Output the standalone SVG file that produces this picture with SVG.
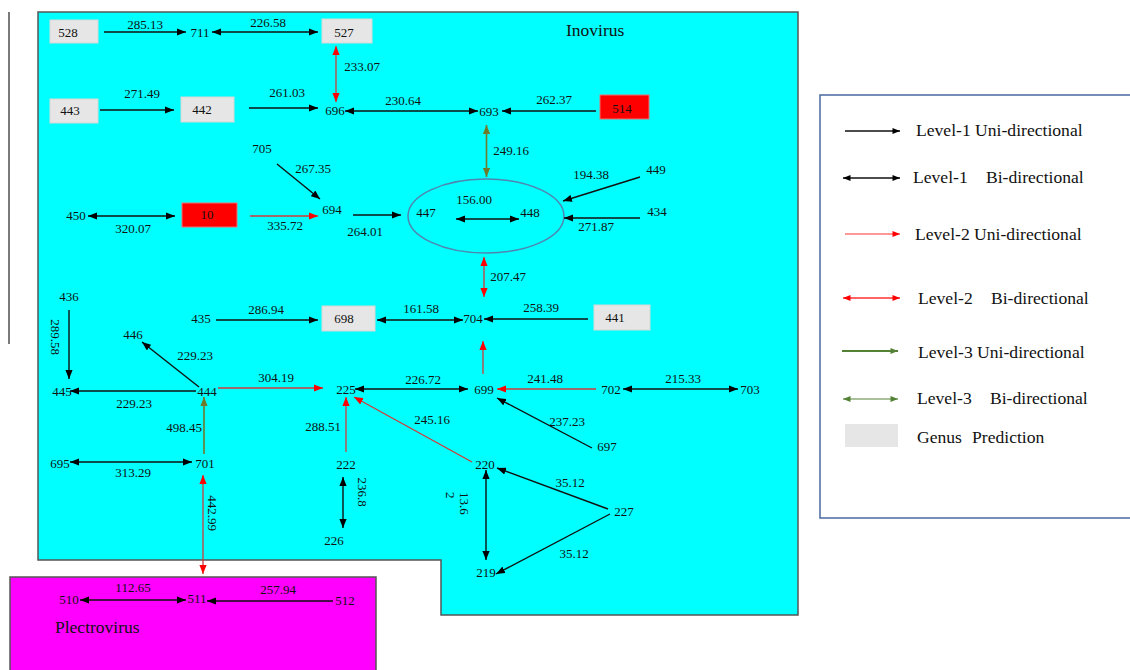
<svg xmlns="http://www.w3.org/2000/svg" width="1130" height="670" viewBox="0 0 1130 670">
<style>
text{font-family:"Liberation Serif","Times New Roman",serif;fill:#111}
.n{font-size:13px;text-anchor:middle}
.l{font-size:13px;text-anchor:middle}
.t{font-size:17.5px}
.lg{font-size:17.6px}
.k{stroke:#111;stroke-width:1.4;fill:none}
.r{stroke:#d23a3a;stroke-width:1.3;fill:none}
.g{stroke:#6f7a2c;stroke-width:1.6;fill:none}
.gb{fill:#e6e6e6;stroke:#d8d8d8;stroke-width:1}
.rb{fill:#ff0000;stroke:#f07070;stroke-width:1}
.ku{marker-end:url(#ak)}
.kb{marker-start:url(#ak);marker-end:url(#ak)}
.ru{marker-end:url(#ar)}
.rbi{marker-start:url(#ar);marker-end:url(#ar)}
.gu{marker-end:url(#ag)}
.gbi{marker-start:url(#ag);marker-end:url(#ag)}
</style>
<defs>
<marker id="ak" viewBox="0 0 10 8" refX="10" refY="4" markerWidth="9" markerHeight="7.5" markerUnits="userSpaceOnUse" orient="auto-start-reverse"><path d="M0,0 L10,4 L0,8 z" fill="#000"/></marker>
<marker id="ar" viewBox="0 0 10 8" refX="10" refY="4" markerWidth="9" markerHeight="7.5" markerUnits="userSpaceOnUse" orient="auto-start-reverse"><path d="M0,0 L10,4 L0,8 z" fill="#ff0000"/></marker>
<marker id="ag" viewBox="0 0 10 8" refX="10" refY="4" markerWidth="9" markerHeight="7.5" markerUnits="userSpaceOnUse" orient="auto-start-reverse"><path d="M0,0 L10,4 L0,8 z" fill="#6f7a2c"/></marker>
<marker id="lk" viewBox="0 0 10 8" refX="10" refY="4" markerWidth="8" markerHeight="6" markerUnits="userSpaceOnUse" orient="auto-start-reverse"><path d="M0,0 L10,4 L0,8 z" fill="#000"/></marker>
<marker id="lr" viewBox="0 0 10 8" refX="10" refY="4" markerWidth="8" markerHeight="6" markerUnits="userSpaceOnUse" orient="auto-start-reverse"><path d="M0,0 L10,4 L0,8 z" fill="#ff0000"/></marker>
<marker id="lg" viewBox="0 0 10 8" refX="10" refY="4" markerWidth="8" markerHeight="6" markerUnits="userSpaceOnUse" orient="auto-start-reverse"><path d="M0,0 L10,4 L0,8 z" fill="#548235"/></marker>
</defs>
<rect width="1130" height="670" fill="#fff"/>
<line x1="9" y1="12" x2="9" y2="344" stroke="#222" stroke-width="1.2"/>
<g id="region-inovirus">
<polygon points="38,12 798,12 798,615 441,615 441,560 38,560" fill="#00ffff" stroke="#555" stroke-width="1.5"/>
<text class="t" x="566" y="36">Inovirus</text>
</g>
<g id="region-plectrovirus">
<rect x="10" y="577" width="366" height="100" fill="#ff00ff" stroke="#555" stroke-width="1.5"/>
<text class="t" x="55" y="633">Plectrovirus</text>
</g>
<g id="cluster-447-448">
<ellipse cx="486" cy="216" rx="78" ry="37" fill="none" stroke="#4f86b0" stroke-width="1.5"/>
</g>
<g id="connectors">
<line class="k ku" x1="104" y1="32" x2="186" y2="32"/>
<line class="k ku" x1="100" y1="110" x2="174" y2="110"/>
<line class="k ku" x1="249" y1="108" x2="318" y2="108"/>
<line class="k ku" x1="596" y1="111" x2="502" y2="111"/>
<line class="k ku" x1="277" y1="164" x2="320" y2="199"/>
<line class="k ku" x1="353" y1="215" x2="401" y2="215"/>
<line class="k ku" x1="640" y1="177" x2="563" y2="201"/>
<line class="k ku" x1="640" y1="218" x2="564" y2="218"/>
<line class="k ku" x1="69" y1="310" x2="69" y2="379"/>
<line class="k ku" x1="216" y1="320" x2="318" y2="320"/>
<line class="k ku" x1="588" y1="319" x2="484" y2="319"/>
<line class="k ku" x1="199" y1="387" x2="142" y2="342"/>
<line class="k ku" x1="196" y1="391" x2="70" y2="391"/>
<line class="k ku" x1="592" y1="448" x2="497" y2="398"/>
<line class="k ku" x1="608" y1="509" x2="497" y2="468"/>
<line class="k ku" x1="610" y1="514" x2="496" y2="574"/>
<line class="k ku" x1="333" y1="601" x2="207" y2="601"/>
<line class="k kb" x1="212" y1="32" x2="318" y2="32"/>
<line class="k kb" x1="345" y1="111" x2="478" y2="111"/>
<line class="k kb" x1="88" y1="216" x2="175" y2="216"/>
<line class="k kb" x1="456" y1="219" x2="519" y2="219"/>
<line class="k kb" x1="377" y1="320" x2="463" y2="320"/>
<line class="k kb" x1="355" y1="389" x2="468" y2="389"/>
<line class="k kb" x1="623" y1="389" x2="738" y2="389"/>
<line class="k kb" x1="70" y1="462" x2="192" y2="462"/>
<line class="k kb" x1="343" y1="477" x2="343" y2="528"/>
<line class="k kb" x1="486" y1="470" x2="486" y2="560"/>
<line class="k kb" x1="80" y1="600" x2="186" y2="600"/>
<line class="r ru" x1="250" y1="216" x2="318" y2="216"/>
<line class="r ru" x1="483" y1="374" x2="483" y2="341"/>
<line class="r ru" x1="596" y1="389" x2="497" y2="389"/>
<line class="r ru" x1="218" y1="388" x2="323" y2="388"/>
<line class="r ru" x1="472" y1="462" x2="354" y2="397"/>
<line class="r ru" x1="346" y1="452" x2="346" y2="397"/>
<line class="r rbi" x1="336" y1="46" x2="336" y2="102"/>
<line class="r rbi" x1="484" y1="257" x2="484" y2="297"/>
<line class="r rbi" x1="203" y1="475" x2="203" y2="574"/>
<line class="g gbi" x1="486.5" y1="125" x2="486.5" y2="177"/>
<line class="g gu" x1="204" y1="454" x2="204" y2="397"/>
</g>
<g id="edge-labels">
<text class="l" x="145" y="29">285.13</text>
<text class="l" x="268" y="27">226.58</text>
<text class="l" x="362" y="71">233.07</text>
<text class="l" x="142" y="98">271.49</text>
<text class="l" x="287" y="97">261.03</text>
<text class="l" x="403" y="105">230.64</text>
<text class="l" x="554" y="104">262.37</text>
<text class="l" x="511" y="155">249.16</text>
<text class="l" x="313" y="173">267.35</text>
<text class="l" x="133" y="233">320.07</text>
<text class="l" x="285" y="230">335.72</text>
<text class="l" x="365" y="236">264.01</text>
<text class="l" x="591" y="179">194.38</text>
<text class="l" x="596" y="231">271.87</text>
<text class="l" x="474" y="204">156.00</text>
<text class="l" x="508" y="281">207.47</text>
<text class="l" x="266" y="314">286.94</text>
<text class="l" x="421" y="313">161.58</text>
<text class="l" x="541" y="312">258.39</text>
<text class="l" transform="translate(51,337) rotate(90)">289.58</text>
<text class="l" x="195" y="360">229.23</text>
<text class="l" x="134" y="408">229.23</text>
<text class="l" x="276" y="382">304.19</text>
<text class="l" x="423" y="384">226.72</text>
<text class="l" x="545" y="383">241.48</text>
<text class="l" x="683" y="383">215.33</text>
<text class="l" x="567" y="426">237.23</text>
<text class="l" x="432" y="424">245.16</text>
<text class="l" x="323" y="431">288.51</text>
<text class="l" x="184" y="432">498.45</text>
<text class="l" x="133" y="477">313.29</text>
<text class="l" transform="translate(208,513) rotate(90)">442.99</text>
<text class="l" transform="translate(358,492) rotate(90)">236.8</text>
<text font-size="13" transform="translate(460,492) rotate(90)"><tspan x="0" y="0">13.6</tspan><tspan x="0" y="14">2</tspan></text>
<text class="l" x="570" y="487">35.12</text>
<text class="l" x="574" y="558">35.12</text>
<text class="l" x="133" y="592">112.65</text>
<text class="l" x="278" y="594">257.94</text>
</g>
<g id="node-528"><rect class="gb" x="50" y="20" width="48" height="23"/><text class="n" x="68" y="37">528</text></g>
<g id="node-711"><text class="n" x="200" y="37">711</text></g>
<g id="node-527"><rect class="gb" x="322" y="19" width="50" height="24"/><text class="n" x="344" y="37">527</text></g>
<g id="node-443"><rect class="gb" x="50" y="99" width="48" height="24"/><text class="n" x="70" y="115">443</text></g>
<g id="node-442"><rect class="gb" x="181" y="97" width="53" height="25"/><text class="n" x="202" y="114">442</text></g>
<g id="node-696"><text class="n" x="335" y="115">696</text></g>
<g id="node-693"><text class="n" x="489" y="116">693</text></g>
<g id="node-514"><rect class="rb" x="600" y="95" width="49" height="24"/><text class="n" x="622" y="113">514</text></g>
<g id="node-705"><text class="n" x="262" y="153">705</text></g>
<g id="node-694"><text class="n" x="332" y="214">694</text></g>
<g id="node-450"><text class="n" x="76" y="220">450</text></g>
<g id="node-10"><rect class="rb" x="182" y="203" width="55" height="24"/><text class="n" x="207" y="219">10</text></g>
<g id="node-447"><text class="n" x="426" y="217">447</text></g>
<g id="node-448"><text class="n" x="530" y="217">448</text></g>
<g id="node-449"><text class="n" x="656" y="174">449</text></g>
<g id="node-434"><text class="n" x="657" y="216">434</text></g>
<g id="node-436"><text class="n" x="69" y="301">436</text></g>
<g id="node-435"><text class="n" x="201" y="323">435</text></g>
<g id="node-698"><rect class="gb" x="322" y="306" width="53" height="25"/><text class="n" x="344" y="323">698</text></g>
<g id="node-704"><text class="n" x="473" y="323">704</text></g>
<g id="node-441"><rect class="gb" x="594" y="305" width="56" height="25"/><text class="n" x="615" y="322">441</text></g>
<g id="node-446"><text class="n" x="133" y="339">446</text></g>
<g id="node-445"><text class="n" x="62" y="396">445</text></g>
<g id="node-444"><text class="n" x="207" y="396">444</text></g>
<g id="node-225"><text class="n" x="346" y="394">225</text></g>
<g id="node-699"><text class="n" x="484" y="394">699</text></g>
<g id="node-702"><text class="n" x="611" y="394">702</text></g>
<g id="node-703"><text class="n" x="750" y="394">703</text></g>
<g id="node-697"><text class="n" x="607" y="451">697</text></g>
<g id="node-695"><text class="n" x="60" y="468">695</text></g>
<g id="node-701"><text class="n" x="205" y="468">701</text></g>
<g id="node-222"><text class="n" x="346" y="469">222</text></g>
<g id="node-220"><text class="n" x="485" y="469">220</text></g>
<g id="node-226"><text class="n" x="334" y="545">226</text></g>
<g id="node-227"><text class="n" x="624" y="516">227</text></g>
<g id="node-219"><text class="n" x="486" y="577">219</text></g>
<g id="node-510"><text class="n" x="69" y="604">510</text></g>
<g id="node-511"><text class="n" x="197" y="603">511</text></g>
<g id="node-512"><text class="n" x="345" y="605">512</text></g>
<g id="legend">
<rect x="820" y="95" width="320" height="423" fill="#fff" stroke="#4a6aa0" stroke-width="1.5"/>
<line x1="845" y1="131" x2="900" y2="131" stroke="#111" stroke-width="1.3" marker-end="url(#lk)"/>
<text class="lg" x="916" y="136">Level-1 Uni-directional</text>
<line x1="843" y1="178" x2="900" y2="178" stroke="#111" stroke-width="1.3" marker-start="url(#lk)" marker-end="url(#lk)"/>
<text class="lg" x="913" y="183">Level-1</text><text class="lg" x="986" y="183">Bi-directional</text>
<line x1="845" y1="234" x2="900" y2="234" stroke="#ff3030" stroke-width="1.2" marker-end="url(#lr)"/>
<text class="lg" x="915" y="240">Level-2 Uni-directional</text>
<line x1="843" y1="298" x2="900" y2="298" stroke="#ff3030" stroke-width="1.5" marker-start="url(#lr)" marker-end="url(#lr)"/>
<text class="lg" x="918" y="304">Level-2</text><text class="lg" x="991" y="304">Bi-directional</text>
<line x1="842" y1="351" x2="898" y2="351" stroke="#548235" stroke-width="2.2" marker-end="url(#lg)"/>
<text class="lg" x="918" y="358">Level-3 Uni-directional</text>
<line x1="843" y1="399" x2="898" y2="399" stroke="#548235" stroke-width="1.2" marker-start="url(#lg)" marker-end="url(#lg)"/>
<text class="lg" x="917" y="404">Level-3</text><text class="lg" x="990" y="404">Bi-directional</text>
<rect x="845" y="424" width="53" height="23" fill="#e6e6e6"/>
<text class="lg" x="917" y="443">Genus</text><text class="lg" x="972" y="443">Prediction</text>
</g>
</svg>
